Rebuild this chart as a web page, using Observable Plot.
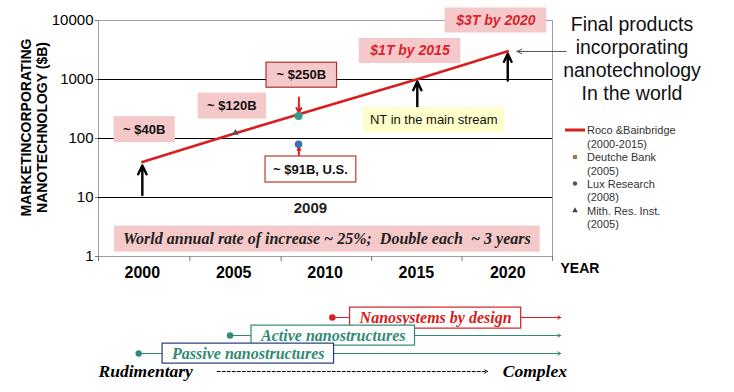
<!DOCTYPE html>
<html><head><meta charset="utf-8">
<script src="https://cdn.jsdelivr.net/npm/d3@7"></script>
<script src="https://cdn.jsdelivr.net/npm/@observablehq/plot@0.6"></script>
<style>
html,body{margin:0;padding:0;background:#fff;}
#wrap{position:relative;width:734px;height:392px;overflow:hidden;background:#fff;}
#wrap > svg{position:absolute;left:0;}
</style></head><body><div id="wrap"></div>
<script>
// ---------- data ----------
const years = [2000, 2005, 2010, 2015, 2020];
const xDomain = [1997.6, 2022.45];
const xBoundaries = [1997.6, 2002.6, 2007.6, 2012.55, 2017.5, 2022.45];
const yTicks = [1, 10, 100, 1000, 10000];
const gridValues = [10, 100, 1000];

const rocoYears = [2000, 2005, 2010, 2015, 2020];
const rocoValues = [40, 120, 350, 1000, 3000];

const pointNames = ["Lux Research", "U.S. estimate", "Mith. Res. Inst."];
const pointYears = [2008.55, 2008.55, 2005.1];
const pointValues = [240, 80, 125];

const noteIds = ["n40", "n120", "n250", "n91", "n1T", "n3T", "nNT", "n2009", "nWorld"];
const noteTexts = ["~ $40B", "~ $120B", "~ $250B", "~ $91B, U.S.", "$1T by 2015", "$3T by 2020",
  "NT in the main stream", "2009", "World annual rate of increase ~ 25%;  Double each  ~ 3 years"];
const noteYears = [2000.1, 2004.9, 2008.7, 2009.2, 2014.65, 2019.35, 2015.95, 2009.2, 2010.1];
const noteValues = [142, 355, 1190, 30, 3040, 10000, 206, 6.5, 2.02];
const noteKinds = ["pink", "pink", "pinkRed", "white", "red", "red", "yellow", "plain", "world"];

const arrowYears = [2000, 2015.05, 2020];
const arrowFrom = [11, 298, 962];
const arrowTo = [35, 925, 2728];
const redArrowYears = [2008.57, 2008.57];
const redArrowFrom = [495, 51.5];
const redArrowTo = [277, 70];
const pointerValue = 2985;
const pointerFrom = 2023.2;
const pointerTo = 2020.5;

const legendNames = ["Roco &Bainbridge", "Deutche Bank", "Lux Research", "Mith. Res. Inst."];
const legendDates = ["(2000-2015)", "(2005)", "(2008)", "(2005)"];
const titleLines = ["Final products", "incorporating", "nanotechnology", "In the world"];

const stageNames = ["Nanosystems by design", "Active nanostructures", "Passive nanostructures"];
const stageStarts = [2010.4, 2004.8, 1999.8];
const stageLabelYears = [2016.05, 2010.45, 2005.8];
const stageEnd = 2022.9;
const scaleLabels = ["Rudimentary", "Complex"];
const scaleLabelYears = [1997.6, 2019.73];
const scaleArrow = [2004.1, 2018.9];

// ---------- styles ----------
const SANS = "'Liberation Sans', Arial, Helvetica, sans-serif";
const SERIF = "'Liberation Serif', 'Times New Roman', serif";
const PINK = "#f5c9c9";
const RED = "#d9232d";
const TEAL = "#2e8b74";
const kindStyle = {
  pink:    {font: SANS, size: 13, weight: "bold", style: "normal", color: "#111", box: PINK, border: "none", padX: 9.5, padY: 5.5},
  pinkRed: {font: SANS, size: 13, weight: "bold", style: "normal", color: "#111", box: PINK, border: "#b03030", padX: 10.5, padY: 5},
  white:   {font: SANS, size: 13, weight: "bold", style: "normal", color: "#111", box: "#fff", border: "#c0392b", padX: 8, padY: 5.5},
  red:     {font: SANS, size: 14, weight: "bold", style: "italic", color: RED, box: PINK, border: "none", padX: 10.5, padY: 4.5},
  yellow:  {font: SANS, size: 13, weight: "normal", style: "normal", color: "#111", box: "#ffffcc", border: "none", padX: 7, padY: 5},
  plain:   {font: SANS, size: 15, weight: "bold", style: "normal", color: "#222", box: null},
  world:   {font: SERIF, size: 16, weight: "bold", style: "italic", color: "#222", box: PINK, border: "none", padX: 9, padY: 4}
};
const stageColors = ["#d42020", TEAL, TEAL];
const stageBorders = ["#d42020", TEAL, "#243a7a"];

// ---------- tables ----------
const roco = rocoYears.map((year, i) => ({year, value: rocoValues[i]}));
const points = pointNames.map((name, i) => ({name, year: pointYears[i], value: pointValues[i]}));
const notes = noteIds.map((id, i) => ({id, text: noteTexts[i], year: noteYears[i], value: noteValues[i], kind: noteKinds[i]}));
const blackArrows = arrowYears.map((year, i) => ({year, from: arrowFrom[i], to: arrowTo[i]}));
const redArrows = redArrowYears.map((year, i) => ({year, from: redArrowFrom[i], to: redArrowTo[i]}));
const stages = stageNames.map((name, i) => ({name, start: stageStarts[i], end: stageEnd, labelYear: stageLabelYears[i]}));
const scaleTexts = scaleLabels.map((t, i) => ({t, year: scaleLabelYears[i]}));

const NS = "http://www.w3.org/2000/svg";
function addBoxes(svg, lookup) {
  svg.querySelectorAll("text[aria-label]").forEach(t => {
    const s = lookup(t.getAttribute("aria-label"));
    if (!s || !s.box) return;
    const b = t.getBBox();
    const r = document.createElementNS(NS, "rect");
    r.setAttribute("x", b.x - s.padX);
    r.setAttribute("y", b.y - s.padY);
    r.setAttribute("width", b.width + 2 * s.padX);
    r.setAttribute("height", b.height + 2 * s.padY);
    r.setAttribute("fill", s.box);
    r.setAttribute("stroke", s.border || "none");
    r.setAttribute("stroke-width", 1.2);
    const tr = t.getAttribute("transform");
    if (tr) r.setAttribute("transform", tr);
    t.parentNode.insertBefore(r, t);
  });
}

const wrap = document.getElementById("wrap");

// ---------- main chart ----------
const main = Plot.plot({
  width: 734, height: 392,
  marginLeft: 98, marginRight: 182, marginTop: 20, marginBottom: 136,
  style: {fontFamily: SANS, background: "transparent", overflow: "visible", color: "#000"},
  x: {domain: xDomain},
  y: {type: "log", domain: [1, 10000]},
  marks: [
    Plot.frame({stroke: "#a0a0a0"}),
    Plot.ruleY(gridValues, {stroke: "#000", strokeWidth: 1}),
    Plot.axisY({ticks: yTicks, tickFormat: d => String(d), tickSize: 3, tickPadding: 2, fontSize: 15, label: null, stroke: "#777"}),
    Plot.axisX({ticks: xBoundaries, tickFormat: () => "", tickSize: 5, label: null, stroke: "#777"}),
    Plot.axisX({ticks: years, tickFormat: d => String(d), tickSize: 0, tickPadding: 10, fontSize: 16, fontWeight: "bold", label: null}),
    Plot.text(["YEAR"], {frameAnchor: "bottom-right", textAnchor: "start", dx: 8, dy: 16, fontSize: 14, fontWeight: "bold"}),
    Plot.text(["MARKETINCORPORATING\nNANOTECHNOLOGY ($B)"], {frameAnchor: "left", textAnchor: "middle", lineAnchor: "middle", rotate: -90, dx: -65, dy: -11, fontSize: 14, fontWeight: "bold", lineHeight: 1.15}),
    Plot.line(roco, {x: "year", y: "value", stroke: "#d81e1e", strokeWidth: 2.6}),
    Plot.arrow(blackArrows, {x: "year", y1: "from", y2: "to", stroke: "#000", strokeWidth: 2.4, headLength: 7, headAngle: 50}),
    Plot.arrow(redArrows, {x: "year", y1: "from", y2: "to", stroke: "#e02020", strokeWidth: 2, headLength: 6, headAngle: 60}),
    Plot.arrow([{from: pointerFrom, to: pointerTo, value: pointerValue}], {x1: "from", x2: "to", y: "value", stroke: "#555", strokeWidth: 1, headLength: 8, headAngle: 50}),
    Plot.dot(points.filter(p => p.name === "Lux Research"), {x: "year", y: "value", r: 4, fill: "#2f9e86"}),
    Plot.dot(points.filter(p => p.name === "U.S. estimate"), {x: "year", y: "value", r: 3.8, fill: "#3a6fb0"}),
    Plot.dot(points.filter(p => p.name === "Mith. Res. Inst."), {x: "year", y: "value", r: 2.5, symbol: "triangle", fill: "#555"}),
    ...Object.entries(kindStyle).map(([k, s]) => Plot.text(notes.filter(n => n.kind === k), {
      x: "year", y: "value", text: "text", ariaLabel: "id",
      fontFamily: s.font, fontSize: s.size, fontWeight: s.weight, fontStyle: s.style, fill: s.color
    }))
  ]
});
main.style.top = "0px";
wrap.appendChild(main);
addBoxes(main, id => {
  const n = notes.find(d => d.id === id);
  return n ? kindStyle[n.kind] : null;
});

// ---------- timeline ----------
const rows = [...stageNames, "scale"];
const bottom = Plot.plot({
  width: 734, height: 112,
  marginLeft: 98, marginRight: 182, marginTop: 0, marginBottom: 0,
  style: {fontFamily: SERIF, background: "transparent", overflow: "visible"},
  x: {domain: xDomain, axis: null},
  y: {type: "point", domain: rows, range: [27, 100], axis: null},
  color: {type: "ordinal", domain: stageNames, range: stageColors},
  marks: [
    Plot.arrow(stages, {x1: "start", x2: "end", y: "name", stroke: "name", strokeWidth: 1, headLength: 5, headAngle: 60}),
    Plot.dot(stages, {x: "start", y: "name", fill: "name", r: 3.2}),
    Plot.text(stages, {x: "labelYear", y: "name", text: "name", fill: "name", ariaLabel: "name",
      fontFamily: SERIF, fontSize: 16, fontWeight: "bold", fontStyle: "italic"}),
    Plot.arrow([{x1: scaleArrow[0], x2: scaleArrow[1]}], {x1: "x1", x2: "x2", y: () => "scale", stroke: "#000", strokeWidth: 1, strokeDasharray: "3,2", headLength: 5, headAngle: 60}),
    Plot.text(scaleTexts, {x: "year", y: () => "scale", text: "t", textAnchor: "start", fontFamily: SERIF, fontSize: 17.5, fontWeight: "bold", fontStyle: "italic", fill: "#000"})
  ]
});
bottom.style.top = "280px";
wrap.appendChild(bottom);
addBoxes(bottom, name => {
  const i = stageNames.indexOf(name);
  return i < 0 ? null : {box: "#fff", border: stageBorders[i], padX: 9, padY: 1.5};
});

// ---------- legend & side title ----------
const ov = d3.select(wrap).append("svg")
  .attr("width", 734).attr("height", 392)
  .style("top", "0px").style("pointer-events", "none")
  .style("font-family", SANS);
const lg = ov.append("g");
const rowY = [130, 157, 183.5, 210.5];
legendNames.forEach((name, i) => {
  lg.append("text").attr("x", 587).attr("y", rowY[i]).attr("dominant-baseline", "central")
    .attr("font-size", 11).attr("fill", "#333").text(name);
  lg.append("text").attr("x", 587).attr("y", rowY[i] + 13.5).attr("dominant-baseline", "central")
    .attr("font-size", 11).attr("fill", "#333").text(legendDates[i]);
});
lg.append("line").attr("x1", 565).attr("x2", 585).attr("y1", rowY[0]).attr("y2", rowY[0])
  .attr("stroke", "#d81e1e").attr("stroke-width", 3);
lg.append("rect").attr("x", 573).attr("y", rowY[1] - 2).attr("width", 4).attr("height", 4).attr("fill", "#8c7a5a");
lg.append("circle").attr("cx", 575).attr("cy", rowY[2]).attr("r", 2.2).attr("fill", "#4a5868");
lg.append("path").attr("d", d3.symbol(d3.symbolTriangle, 14)()).attr("transform", `translate(575,${rowY[3]})`).attr("fill", "#444");

titleLines.forEach((line, i) => {
  ov.append("text").attr("x", 632).attr("y", 31 + i * 23).attr("text-anchor", "middle")
    .attr("font-size", 19.5).attr("fill", "#111").text(line);
});
</script></body></html>
